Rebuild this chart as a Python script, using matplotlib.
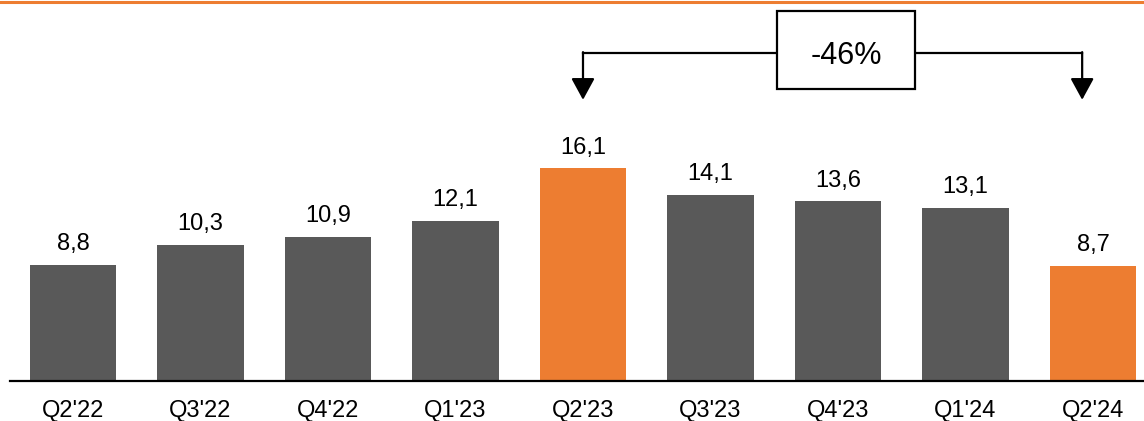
import matplotlib.pyplot as plt
from matplotlib.lines import Line2D
from matplotlib.patches import Rectangle

plt.rcParams['font.family'] = ['Liberation Sans', 'DejaVu Sans']

quarters = ["Q2'22", "Q3'22", "Q4'22", "Q1'23", "Q2'23", "Q3'23", "Q4'23", "Q1'24", "Q2'24"]
values = [8.8, 10.3, 10.9, 12.1, 16.1, 14.1, 13.6, 13.1, 8.7]
highlight = [False, False, False, False, True, False, False, False, True]
change_label = '-46%'

GREY = '#595959'
ORANGE = '#ED7D31'

fig = plt.figure(figsize=(11.44, 4.21), dpi=100)
ax = fig.add_axes([10 / 1144, 40 / 421, 1 - 10 / 1144, 381 / 421])

x = list(range(len(quarters)))
colors = [ORANGE if h else GREY for h in highlight]
ax.bar(x, values, width=0.675, color=colors, zorder=2)

for xi, v in zip(x, values):
    ax.text(xi, v + 0.75, f'{v:.1f}'.replace('.', ','), ha='center', va='bottom',
            fontsize=17, color='black')

ax.set_xlim(-0.494, 8.4)
ax.set_ylim(0, 28.86)
ax.set_xticks(x)
ax.set_xticklabels(quarters, fontsize=17)
ax.tick_params(axis='x', length=0, pad=14)
ax.set_yticks([])
for side in ['top', 'right', 'left']:
    ax.spines[side].set_visible(False)
ax.spines['bottom'].set_linewidth(1.6)
ax.spines['bottom'].set_color('black')

# change annotation: bracket with arrows and a boxed label
y_line = 24.85
y_tip = 21.3
x_left, x_right = 4.0, 7.915
box_x0, box_x1 = 5.525, 6.607
box_y0, box_y1 = 22.1, 28.0
ax.plot([x_left, x_right], [y_line, y_line], color='black', lw=1.6, zorder=3, clip_on=False)
for xa in (x_left, x_right):
    ax.annotate('', xy=(xa, y_tip), xytext=(xa, y_line + 0.06),
                arrowprops=dict(arrowstyle='-|>,head_length=0.55,head_width=0.3',
                                color='black', lw=1.6,
                                mutation_scale=24, shrinkA=0, shrinkB=0))
ax.add_patch(Rectangle((box_x0, box_y0), box_x1 - box_x0, box_y1 - box_y0,
                       facecolor='white', edgecolor='black', lw=1.6, zorder=4, clip_on=False))
ax.text((box_x0 + box_x1) / 2, (box_y0 + box_y1) / 2 - 0.4, change_label,
        ha='center', va='center', fontsize=22, zorder=5)

# orange rule on top of the slide
fig.add_artist(Line2D([0, 1], [1 - 1.5 / 421, 1 - 1.5 / 421], color=ORANGE, lw=2.2,
                      transform=fig.transFigure))

fig.savefig('out.png', dpi=100)
